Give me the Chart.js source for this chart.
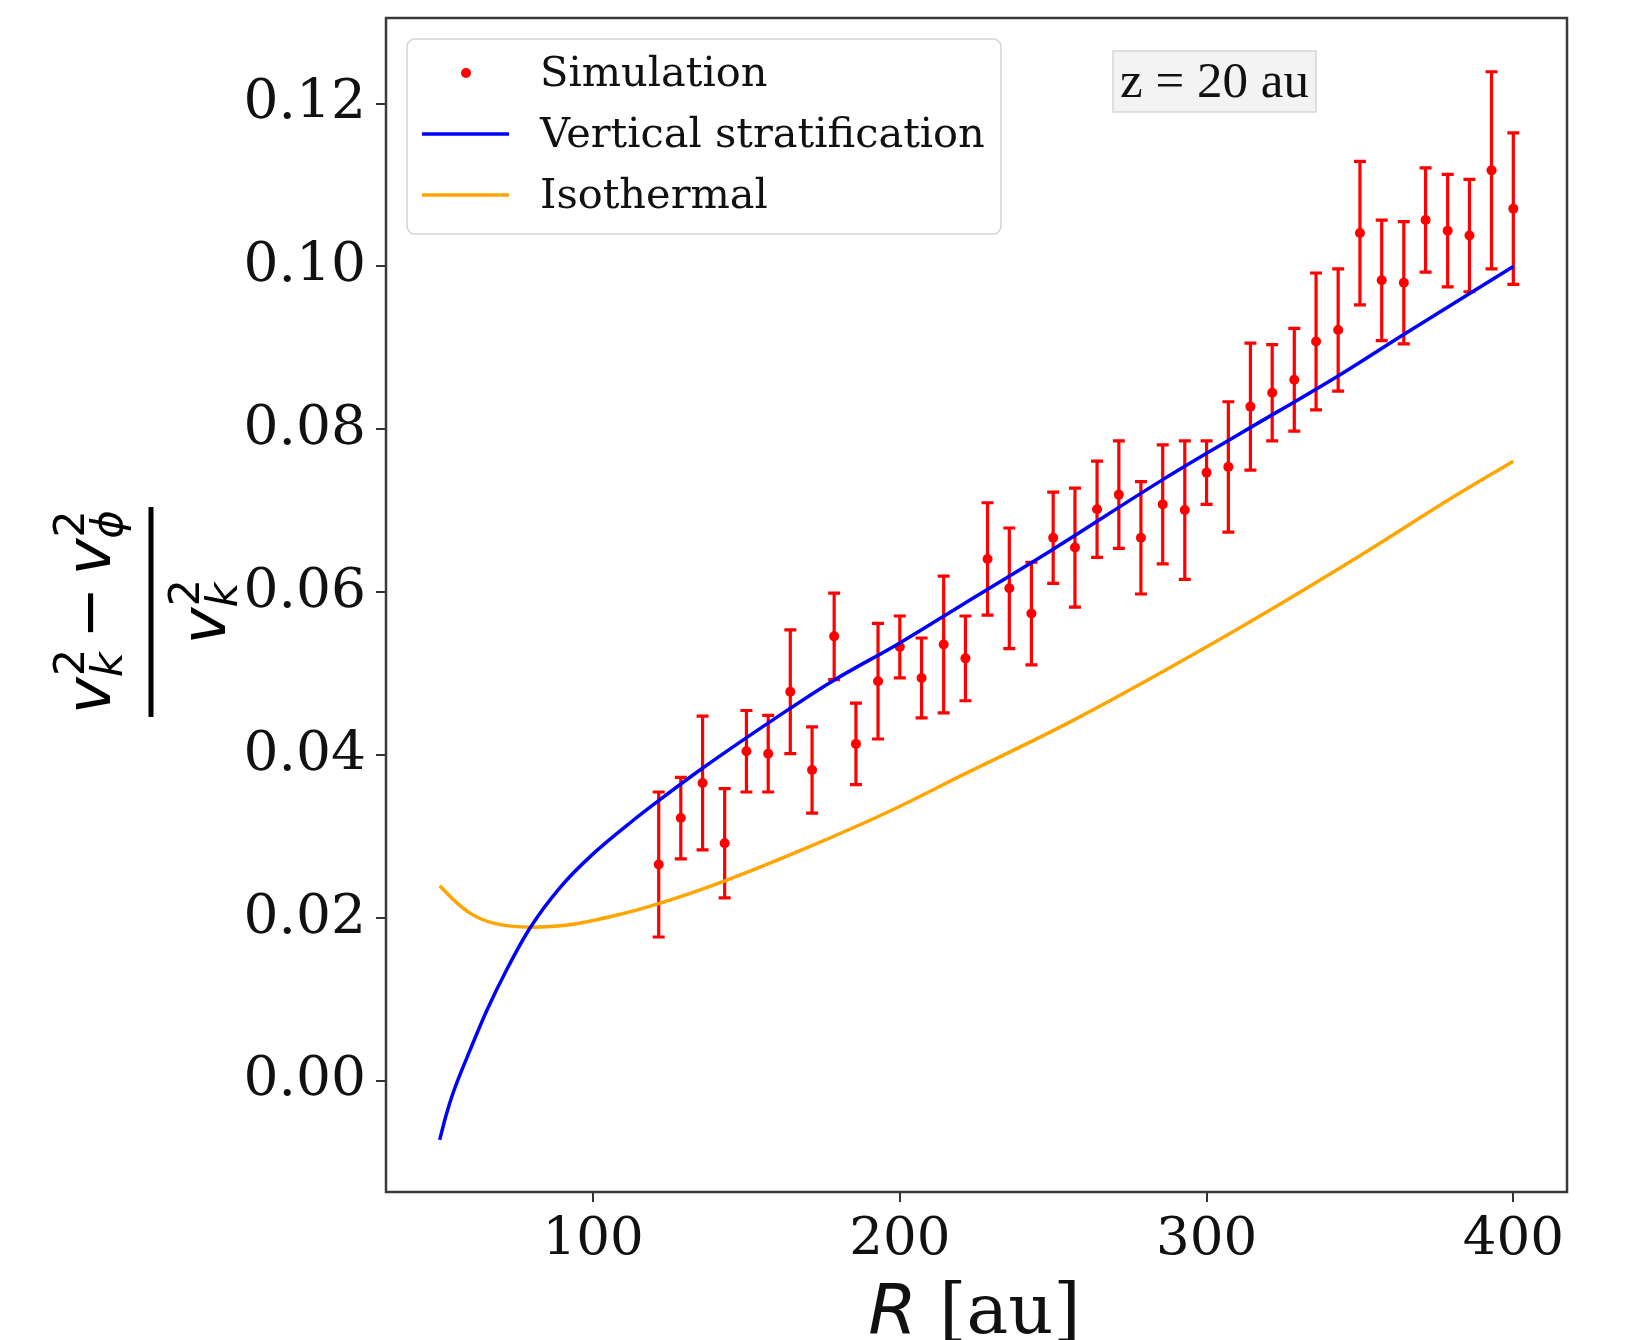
<!DOCTYPE html>
<html>
<head>
<meta charset="utf-8">
<script src="https://cdn.jsdelivr.net/npm/chart.js@4.4.0/dist/chart.umd.min.js"></script>
<style>
  html, body { margin: 0; padding: 0; background: #fff; }
</style>
</head>
<body>
<canvas id="mycanvas" width="1635" height="1340"></canvas>
<script>
// simulation points (R in au) with symmetric error bars
var simR = [121.4, 128.6, 135.7, 142.9, 150.0, 157.1, 164.3, 171.4, 178.6, 185.7,
            192.9, 200.0, 207.1, 214.3, 221.4, 228.6, 235.7, 242.9, 250.0, 257.1,
            264.3, 271.4, 278.6, 285.7, 292.9, 300.0, 307.1, 314.3, 321.4, 328.6,
            335.7, 342.9, 350.0, 357.1, 364.3, 371.4, 378.6, 385.7, 392.9, 400.0];
var simV = [0.0266, 0.0323, 0.0366, 0.0292, 0.0405, 0.0402, 0.0478, 0.0382, 0.0546, 0.0414,
            0.0491, 0.0533, 0.0495, 0.0536, 0.0519, 0.0641, 0.0605, 0.0574, 0.0667, 0.0655,
            0.0702, 0.0720, 0.0667, 0.0708, 0.0701, 0.0747, 0.0754, 0.0828, 0.0845, 0.0861,
            0.0908, 0.0922, 0.1041, 0.0983, 0.0980, 0.1057, 0.1044, 0.1038, 0.1118, 0.1071];
var simErr = [0.0089, 0.0050, 0.0082, 0.0067, 0.0050, 0.0047, 0.0076, 0.0053, 0.0053, 0.0050,
              0.0071, 0.0038, 0.0049, 0.0084, 0.0052, 0.0069, 0.0074, 0.0063, 0.0056, 0.0073,
              0.0059, 0.0066, 0.0069, 0.0073, 0.0085, 0.0039, 0.0080, 0.0078, 0.0059, 0.0063,
              0.0084, 0.0075, 0.0088, 0.0074, 0.0075, 0.0064, 0.0069, 0.0069, 0.0121, 0.0093];

// model curves
var stratR = [50, 52, 54.5, 60, 65.4, 72, 79.6, 89.3, 100, 113, 121.6, 136, 164, 178, 200, 220, 250, 286, 311, 343, 364, 400];
var stratV = [-0.0072, -0.0043, -0.0013, 0.0039, 0.0087, 0.0138, 0.0189, 0.0238, 0.0279, 0.0320, 0.0345, 0.0385,
              0.0457, 0.0491, 0.0538, 0.0584, 0.0653, 0.0739, 0.0795, 0.0866, 0.0916, 0.1000];
var isoR = [50, 55, 60, 67.5, 80, 92.5, 109, 121.4, 143, 170, 197, 220, 256, 311, 350, 380, 400];
var isoV = [0.0240, 0.0221, 0.0206, 0.0194, 0.0189, 0.0192, 0.0205, 0.0218, 0.0246, 0.0287,
            0.0332, 0.0375, 0.0442, 0.0557, 0.0645, 0.0716, 0.0761];

var seriesNames = ['Simulation', 'Vertical stratification', 'Isothermal'];
var xTicks = [100, 200, 300, 400];
var yTicks = [0.00, 0.02, 0.04, 0.06, 0.08, 0.10, 0.12];
var noteText = 'z = 20 au';

var serif = '"DejaVu Serif", serif';
var sans = '"DejaVu Sans", sans-serif';

function toPoints(xs, ys) {
  return xs.map(function (x, i) { return { x: x, y: ys[i] }; });
}

var errorBars = {
  id: 'errorBars',
  beforeDatasetsDraw: function (chart) {
    var ctx = chart.ctx, xs = chart.scales.x, ys = chart.scales.y;
    ctx.save();
    ctx.strokeStyle = 'red';
    ctx.lineWidth = 3.2;
    for (var i = 0; i < simR.length; i++) {
      var px = xs.getPixelForValue(simR[i]);
      var top = ys.getPixelForValue(simV[i] + simErr[i]);
      var bot = ys.getPixelForValue(simV[i] - simErr[i]);
      ctx.beginPath();
      ctx.moveTo(px, top); ctx.lineTo(px, bot);
      ctx.moveTo(px - 6, top); ctx.lineTo(px + 6, top);
      ctx.moveTo(px - 6, bot); ctx.lineTo(px + 6, bot);
      ctx.stroke();
    }
    ctx.restore();
  }
};

// draw a little math row: strings are base glyphs, arrays are [sub, sup]
function mathRow(ctx, items, size, x, y, draw) {
  var w = 0;
  items.forEach(function (it) {
    if (Array.isArray(it)) {
      ctx.font = 'italic ' + (size * 0.7) + 'px ' + sans;
      var subW = ctx.measureText(it[0]).width;
      ctx.font = (size * 0.7) + 'px ' + sans;
      var supW = ctx.measureText(it[1]).width;
      if (draw) {
        ctx.font = 'italic ' + (size * 0.7) + 'px ' + sans;
        ctx.fillText(it[0], x + w, y + size * 0.2);
        ctx.font = (size * 0.7) + 'px ' + sans;
        ctx.fillText(it[1], x + w + 1, y - size * 0.42);
      }
      w += Math.max(subW, supW);
    } else if (it === '−') {
      ctx.font = size + 'px ' + sans;
      w += size * 0.18;
      if (draw) ctx.fillText(it, x + w, y);
      w += ctx.measureText(it).width + size * 0.18;
    } else {
      ctx.font = 'italic ' + size + 'px ' + sans;
      if (draw) ctx.fillText(it, x + w, y);
      w += ctx.measureText(it).width;
    }
  });
  return w;
}

var decorations = {
  id: 'decorations',
  afterDatasetsDraw: function (chart) {
    var ctx = chart.ctx, a = chart.chartArea;
    ctx.save();
    ctx.strokeStyle = '#3a3a3a';
    ctx.lineWidth = 2.5;
    ctx.strokeRect(a.left, a.top, a.right - a.left, a.bottom - a.top);
    ctx.restore();
  },
  afterDraw: function (chart) {
    var ctx = chart.ctx, a = chart.chartArea;
    var ds = chart.data.datasets;
    ctx.save();

    // legend
    var lx = 407, ly = 39, lw = 594, lh = 195;
    ctx.beginPath();
    ctx.roundRect(lx, ly, lw, lh, 8);
    ctx.fillStyle = 'rgba(255,255,255,0.85)';
    ctx.fill();
    ctx.strokeStyle = '#d4d4d4';
    ctx.lineWidth = 1.5;
    ctx.stroke();
    ctx.font = '41.5px ' + serif;
    ctx.textBaseline = 'middle';
    ctx.textAlign = 'left';
    for (var i = 0; i < ds.length; i++) {
      var ry = 73 + i * 61;
      if (i === 0) {
        ctx.fillStyle = ds[i].backgroundColor;
        ctx.beginPath();
        ctx.arc(466, ry, 5, 0, Math.PI * 2);
        ctx.fill();
      } else {
        ctx.strokeStyle = ds[i].borderColor;
        ctx.lineWidth = 3.5;
        ctx.beginPath();
        ctx.moveTo(422, ry); ctx.lineTo(509, ry);
        ctx.stroke();
      }
      ctx.fillStyle = '#111';
      ctx.fillText(ds[i].label, 540, ry + 2);
    }

    // z annotation box
    ctx.fillStyle = '#f3f3f3';
    ctx.fillRect(1113, 51, 203, 61);
    ctx.strokeStyle = '#d6d6d6';
    ctx.lineWidth = 1.5;
    ctx.strokeRect(1113, 51, 203, 61);
    ctx.fillStyle = '#111';
    ctx.font = '51px "Liberation Serif", serif';
    ctx.textAlign = 'center';
    ctx.textBaseline = 'alphabetic';
    ctx.fillText(noteText, 1214.5, 97);

    // x axis title: italic R plus [au]
    ctx.textAlign = 'left';
    ctx.font = 'italic 70px ' + sans;
    var rW = ctx.measureText('R').width;
    ctx.font = '70px ' + serif;
    var uW = ctx.measureText(' [au]').width;
    var cx = (a.left + a.right) / 2 - 2;
    var sx = cx - (rW + uW) / 2;
    ctx.font = 'italic 70px ' + sans;
    ctx.fillText('R', sx, 1333);
    ctx.font = '70px ' + serif;
    ctx.fillText(' [au]', sx + rW, 1333);

    // y axis title: fraction, rotated
    var size = 62;
    var num = ['v', ['k', '2'], '−', 'v', ['ϕ', '2']];
    var den = ['v', ['k', '2']];
    ctx.translate(151, (a.top + a.bottom) / 2 + 7);
    ctx.rotate(-Math.PI / 2);
    ctx.fillStyle = '#000';
    var nw = mathRow(ctx, num, size, 0, 0, false);
    var dw = mathRow(ctx, den, size, 0, 0, false);
    var bw = Math.max(nw, dw) + 6;
    mathRow(ctx, num, size, -nw / 2, -41, true);
    mathRow(ctx, den, size, -dw / 2, 74, true);
    ctx.fillRect(-bw / 2, -2.5, bw, 5);
    ctx.restore();
  }
};

function noPad(axis) {
  axis.paddingTop = 0;
  axis.paddingBottom = 0;
  axis.paddingLeft = 0;
  axis.paddingRight = 0;
}

var ctx = document.getElementById('mycanvas');
var chart = new Chart(ctx, {
  type: 'scatter',
  data: {
    datasets: [
      {
        label: seriesNames[0],
        data: toPoints(simR, simV),
        backgroundColor: 'red',
        borderColor: 'red',
        borderWidth: 0,
        pointRadius: 5,
        order: 3
      },
      {
        label: seriesNames[1],
        data: toPoints(stratR, stratV),
        showLine: true,
        borderColor: 'blue',
        backgroundColor: 'blue',
        borderWidth: 3.5,
        pointRadius: 0,
        cubicInterpolationMode: 'monotone',
        order: 1
      },
      {
        label: seriesNames[2],
        data: toPoints(isoR, isoV),
        showLine: true,
        borderColor: 'orange',
        backgroundColor: 'orange',
        borderWidth: 3.5,
        pointRadius: 0,
        cubicInterpolationMode: 'monotone',
        order: 2
      }
    ]
  },
  options: {
    responsive: false,
    devicePixelRatio: 1,
    animation: false,
    layout: { padding: { top: 18, right: 68, left: 0, bottom: 0 } },
    plugins: {
      legend: { display: false },
      tooltip: { enabled: false }
    },
    scales: {
      x: {
        type: 'linear',
        min: 32.5,
        max: 417.5,
        afterBuildTicks: function (axis) {
          axis.ticks = xTicks.map(function (v) { return { value: v }; });
        },
        afterFit: function (axis) { axis.height = 148; noPad(axis); },
        border: { display: false },
        grid: { display: true, drawOnChartArea: false, drawTicks: true, tickLength: 10, color: '#333', lineWidth: 2 },
        ticks: {
          font: { family: serif, size: 53 },
          color: '#111',
          padding: 6,
          maxRotation: 0,
          callback: function (v) { return String(v); }
        }
      },
      y: {
        type: 'linear',
        min: -0.0136,
        max: 0.1305,
        afterBuildTicks: function (axis) {
          axis.ticks = yTicks.map(function (v) { return { value: v }; });
        },
        afterFit: function (axis) { axis.width = 386; noPad(axis); },
        border: { display: false },
        grid: { display: true, drawOnChartArea: false, drawTicks: true, tickLength: 10, color: '#333', lineWidth: 2 },
        ticks: {
          font: { family: serif, size: 55 },
          color: '#111',
          padding: 10,
          callback: function (v) { return v.toFixed(2); }
        }
      }
    }
  },
  plugins: [errorBars, decorations]
});
</script>
</body>
</html>
